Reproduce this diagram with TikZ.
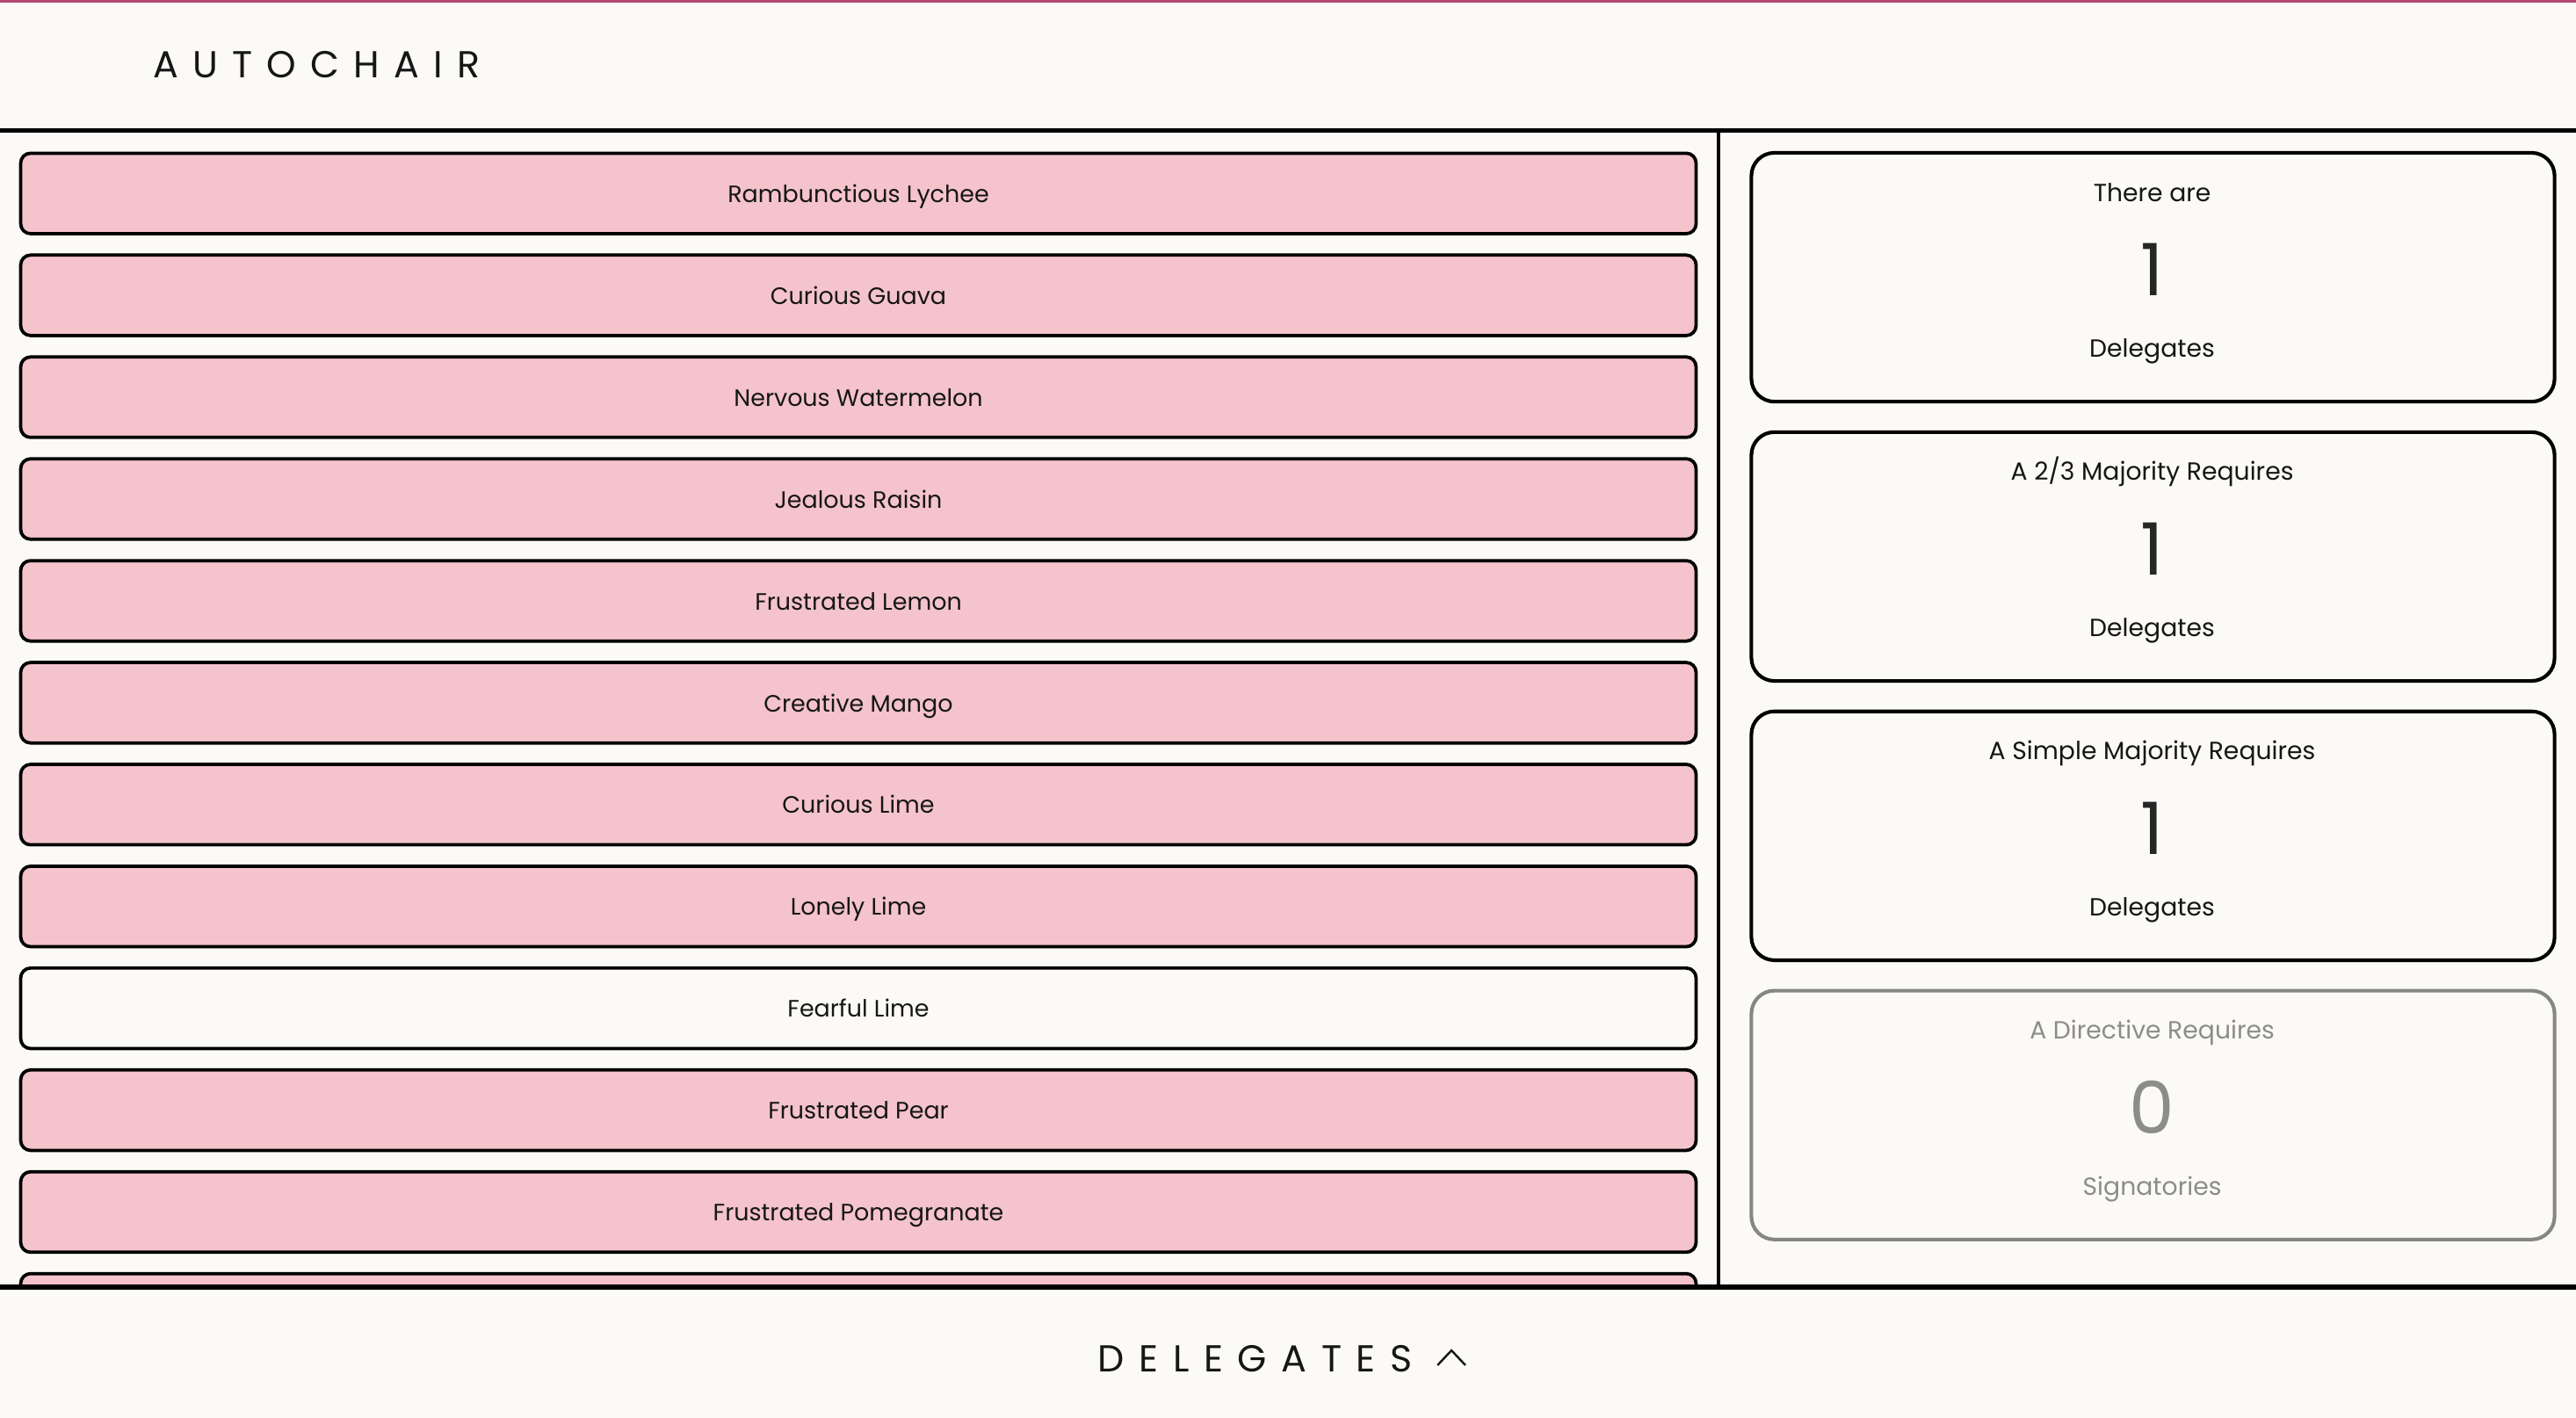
\documentclass[tikz,border=0pt]{standalone}
\usepackage{fontspec}
\setmainfont{Poppins}
\newfontfamily\spaced[LetterSpace=38]{Poppins}
\newfontfamily\spacedfoot[LetterSpace=39]{Poppins}
\usetikzlibrary{positioning}

\definecolor{paper}{HTML}{FCFAF6}
\definecolor{pinkfill}{HTML}{F4C3CC}
\definecolor{topline}{HTML}{B04A76}
\definecolor{ink}{HTML}{161616}
\definecolor{numink}{HTML}{262626}
\definecolor{muted}{HTML}{8C8C8A}
\definecolor{mutedline}{HTML}{868682}

\tikzset{
  delegatebox/.style={draw=black, line width=0.04cm, rounded corners=0.12cm,
    minimum width=20.4cm, minimum height=0.98cm, inner sep=0pt, text=ink,
    font=\fontsize{8.2}{10}\selectfont, text height=6.2pt, text depth=0pt},
  card/.style={line width=0.044cm, rounded corners=0.28cm, fill=paper,
    minimum width=9.78cm, minimum height=3.03cm, inner sep=0pt},
  cardtext/.style={anchor=base, inner sep=0pt, font=\fontsize{8.6}{10}\selectfont},
  cardnum/.style={anchor=base, inner sep=0pt, font=\fontsize{25}{28}\selectfont},
  rule/.style={line width=0.06cm}
}

\begin{document}
\begin{tikzpicture}[x=0.02cm, y=-0.02cm]
    \useasboundingbox (0,0) rectangle (1568,863);
    \fill[paper] (0,0) rectangle (1568,863);

    % Header
    \fill[topline] (0,0) rectangle (1568,1.4);
    \node[anchor=west, inner sep=0pt, text=ink, font=\spaced\fontsize{13}{15}\selectfont] (brand) at (93,39.5) {AUTOCHAIR};
    \draw[rule] (0,79.5) -- (1568,79.5);

    % Delegate list
    \begin{scope}
        \clip (0,81) rectangle (1045,782);
        \foreach \name/\shade [count=\i from 0] in {Rambunctious Lychee/pinkfill, Curious Guava/pinkfill,
            Nervous Watermelon/pinkfill, Jealous Raisin/pinkfill, Frustrated Lemon/pinkfill,
            Creative Mango/pinkfill, Curious Lime/pinkfill, Lonely Lime/pinkfill, Fearful Lime/paper,
            Frustrated Pear/pinkfill, Frustrated Pomegranate/pinkfill, {}/pinkfill}
            \node[delegatebox, fill=\shade] (del\i) at ({522.5},{117.75+62*\i}) {\name};
    \end{scope}

    % Counters
    \foreach \top/\head/\num/\foot/\edge/\lbl/\tone [count=\k] in {
        93/There are/1/Delegates/black/ink/numink,
        263/{A 2/3 Majority Requires}/1/Delegates/black/ink/numink,
        433/A Simple Majority Requires/1/Delegates/black/ink/numink,
        603/A Directive Requires/0/Signatories/mutedline/muted/muted}
    {
        \node[card, draw=\edge] (card\k) at ({1310.5},{\top+75.75}) {};
        \node[cardtext, text=\lbl] (head\k) at ({1310},{\top+29.5}) {\head};
        \node[cardnum, text=\tone] (num\k) at ({1310},{\top+87}) {\num};
        \node[cardtext, text=\lbl] (foot\k) at ({1310},{\top+124.5}) {\foot};
    }

    % Frame
    \draw[line width=0.05cm] (1046,79.5) -- (1046,783.5);
    \draw[rule] (0,783.5) -- (1568,783.5);

    % Footer
    \node[anchor=west, inner sep=0pt, text=ink, font=\spacedfoot\fontsize{13}{15}\selectfont] (footer) at (668,827) {DELEGATES};
    \draw[ink, line width=0.026cm] (875,831) -- (883.5,822) -- (892,831);
\end{tikzpicture}
\end{document}
